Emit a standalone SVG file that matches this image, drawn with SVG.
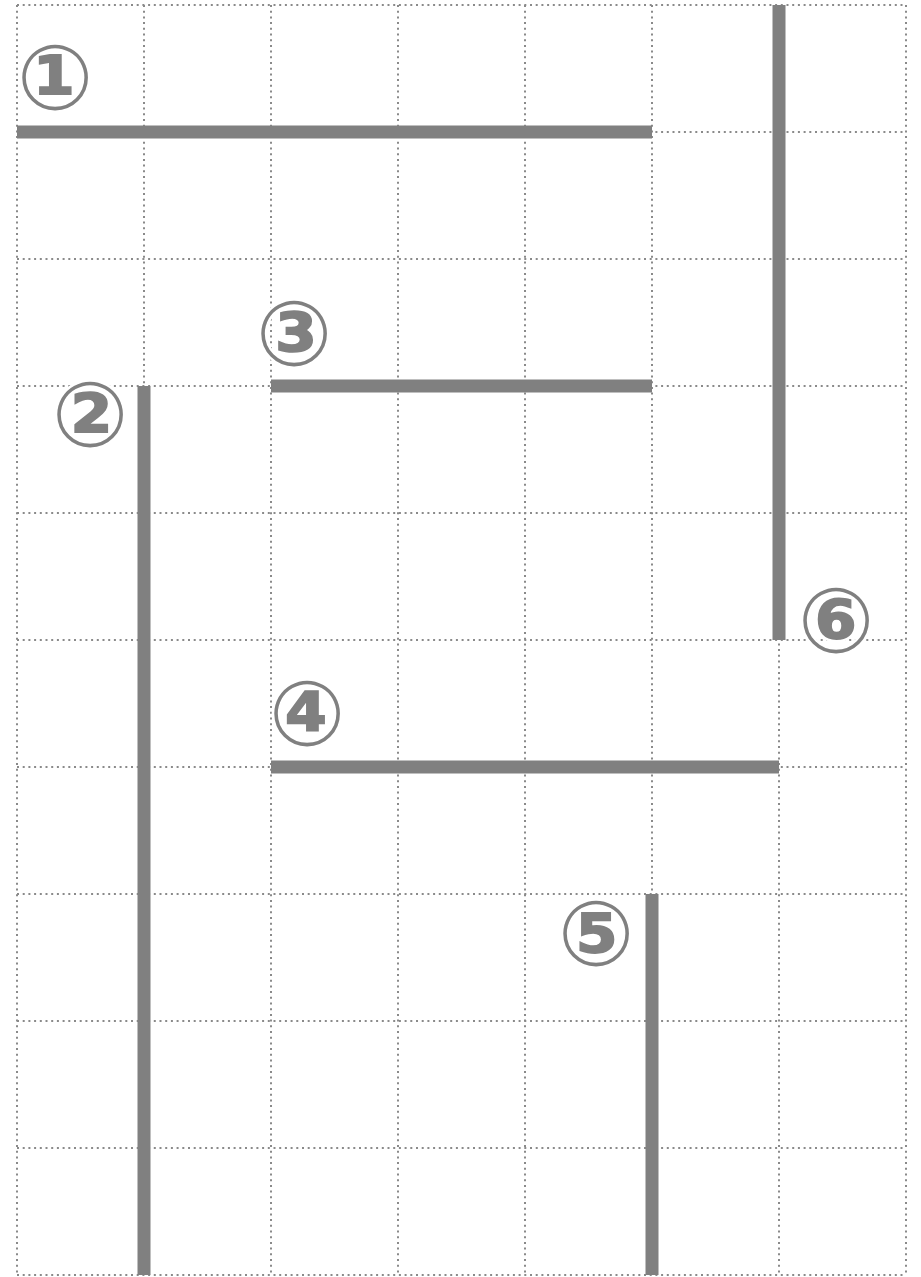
<svg xmlns="http://www.w3.org/2000/svg" width="921" height="1277" viewBox="0 0 921 1277">
<style>
.g{stroke:#8a8a8a;stroke-width:2;stroke-dasharray:2 3.7;fill:none}
.w{stroke:#808080;stroke-width:13;fill:none}
.n{font-family:"DejaVu Sans","Noto Sans CJK JP",sans-serif;font-weight:bold;font-size:90px;fill:#808080;stroke:#fff;stroke-width:5;paint-order:stroke;text-anchor:middle;dominant-baseline:central}
</style>
<rect width="921" height="1277" fill="#fff"/>
<g id="grid" class="g">
<path d="M17 5V1275M144 5V1275M271 5V1275M398 5V1275M525 5V1275M652 5V1275M779 5V1275M906 5V1275"/>
<path d="M17 5H906M17 132H906M17 259H906M17 386H906M17 513H906M17 640H906M17 767H906M17 894H906M17 1021H906M17 1148H906M17 1275H906"/>
</g>
<g id="connectors" class="w">
<path d="M17 132H652"/>
<path d="M144 386V1275"/>
<path d="M271 386H652"/>
<path d="M271 767H779"/>
<path d="M652 894V1275"/>
<path d="M779 5V640"/>
</g>
<g id="n1"><text class="n" x="55" y="77">①</text></g>
<g id="n2"><text class="n" x="90" y="414">②</text></g>
<g id="n3"><text class="n" x="294" y="333">③</text></g>
<g id="n4"><text class="n" x="307" y="713">④</text></g>
<g id="n5"><text class="n" x="596" y="933">⑤</text></g>
<g id="n6"><text class="n" x="836" y="620">⑥</text></g>
</svg>
